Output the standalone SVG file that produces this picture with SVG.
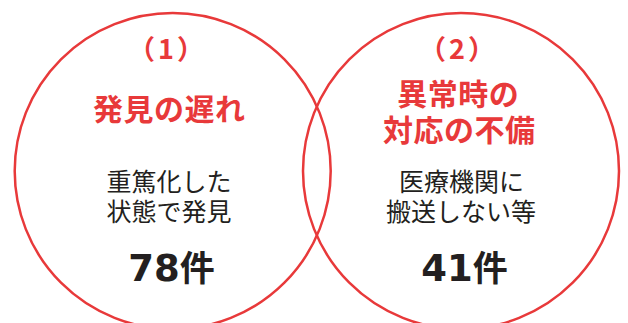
<svg xmlns="http://www.w3.org/2000/svg" width="628" height="323" viewBox="0 0 628 323">
<style>
.ring{fill:none;stroke:#e8393a;stroke-width:2.5}
.num{font-family:"Noto Sans CJK JP","Noto Sans",sans-serif;font-size:27px;font-weight:700;fill:#e8393a;text-anchor:middle;letter-spacing:3px}
.title{font-family:"Noto Sans CJK JP",sans-serif;font-size:30px;font-weight:700;fill:#e8393a;text-anchor:middle;letter-spacing:0.5px}
.body{font-family:"Noto Sans CJK JP",sans-serif;font-size:25px;font-weight:400;fill:#231f20;text-anchor:middle}
.count{font-family:"DejaVu Sans","Noto Sans CJK JP",sans-serif;font-size:37px;font-weight:700;fill:#231f20;text-anchor:middle}
.ken{font-family:"Noto Sans CJK JP",sans-serif;font-size:35px;font-weight:700}
</style>
<rect width="628" height="323" fill="#ffffff"/>
<g id="circle1">
<circle class="ring" cx="172.7" cy="171" r="158"/>
<text class="num" x="167.5" y="59">（1）</text>
<text class="title" x="169.3" y="120">発見の遅れ</text>
<text class="body" x="169" y="191">重篤化した</text>
<text class="body" x="169" y="221">状態で発見</text>
<text class="count" x="171.5" y="281">78<tspan class="ken">件</tspan></text>
</g>
<g id="circle2">
<circle class="ring" cx="461" cy="171" r="158"/>
<text class="num" x="458.5" y="59">（2）</text>
<text class="title" x="458.3" y="105">異常時の</text>
<text class="title" x="459.3" y="141">対応の不備</text>
<text class="body" x="461.5" y="191">医療機関に</text>
<text class="body" x="461" y="221">搬送しない等</text>
<text class="count" x="464.5" y="281">41<tspan class="ken">件</tspan></text>
</g>
<g id="connectors"/>
</svg>
